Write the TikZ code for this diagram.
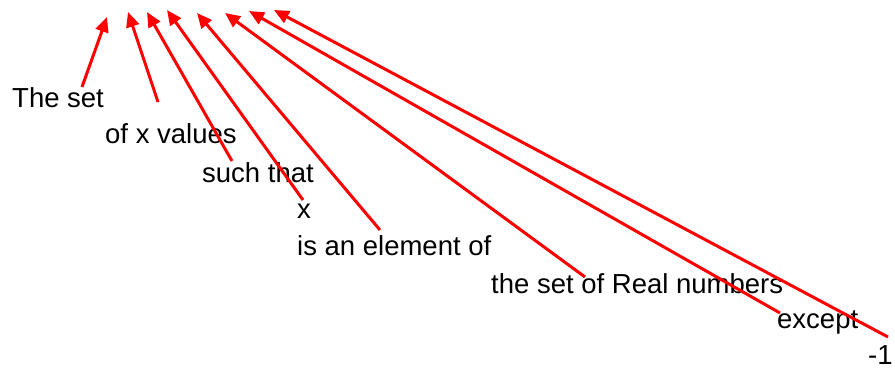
\documentclass[tikz,border=0pt]{standalone}
\usepackage{fontspec}
\setmainfont{Liberation Sans}
\usepackage{xcolor}
\usetikzlibrary{arrows.meta, positioning}
\definecolor{arrowred}{RGB}{255, 0, 0}
\tikzstyle{phrase} = [anchor=base west, inner sep=0pt, font=\fontsize{27.5}{30}\selectfont, text=black]
\tikzstyle{arrow} = [-{Triangle[length=15pt, width=13pt]}, line width=3pt, draw=arrowred]

\begin{document}
\begin{tikzpicture}[x=1pt, y=-1pt]
    \useasboundingbox (0,0) rectangle (895,369);

    % Phrases
    \node[phrase] (theset) at (12, 107) {The set};
    \node[phrase] (values) at (105, 143) {of x values};
    \node[phrase] (such) at (202, 182) {such that};
    \node[phrase] (xvar) at (297, 218) {x};
    \node[phrase] (elem) at (297, 255) {is an element of};
    \node[phrase] (reals) at (491, 293) {the set of Real numbers};
    \node[phrase] (except) at (777, 328) {except};
    \node[phrase] (minus) at (868, 364) {-1};

    % Arrow tips
    \coordinate (t1) at (107, 17);
    \coordinate (t2) at (128, 12);
    \coordinate (t3) at (147, 12);
    \coordinate (t4) at (167, 10);
    \coordinate (t5) at (197, 13);
    \coordinate (t6) at (225, 13);
    \coordinate (t7) at (249, 11);
    \coordinate (t8) at (274, 10);

    % Arrow tails
    \coordinate (s1) at (82, 87);
    \coordinate (s2) at (158, 102);
    \coordinate (s3) at (232, 161);
    \coordinate (s4) at (303, 200);
    \coordinate (s5) at (380, 230);
    \coordinate (s6) at (585, 277);
    \coordinate (s7) at (780, 313);
    \coordinate (s8) at (888, 337);

    % Arrows
    \draw[arrow] (s1) -- (t1);
    \draw[arrow] (s2) -- (t2);
    \draw[arrow] (s3) -- (t3);
    \draw[arrow] (s4) -- (t4);
    \draw[arrow] (s5) -- (t5);
    \draw[arrow] (s6) -- (t6);
    \draw[arrow] (s7) -- (t7);
    \draw[arrow] (s8) -- (t8);
\end{tikzpicture}
\end{document}
